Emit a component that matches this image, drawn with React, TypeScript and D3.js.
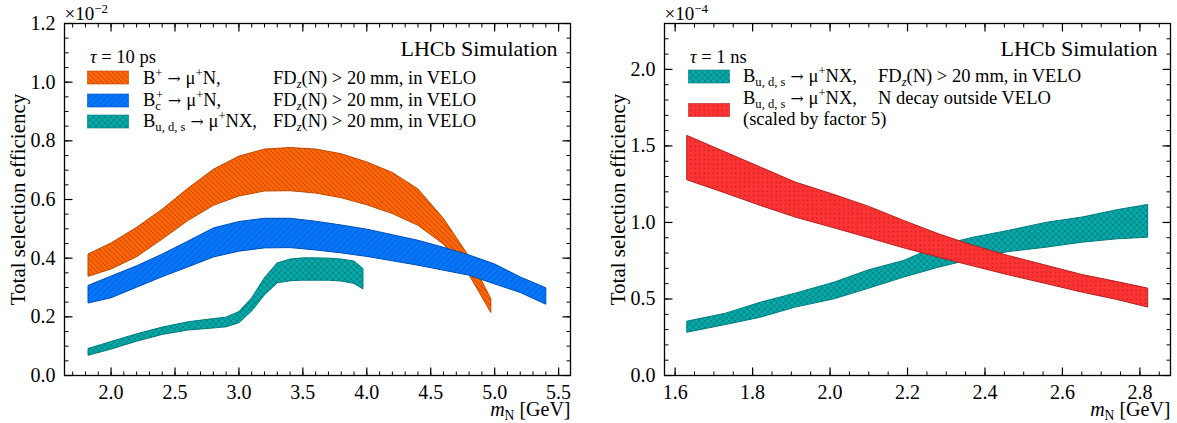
import React from "react";
import * as d3 from "d3";

// left panel: tau = 10 ps, efficiencies in units of 1e-2
const bpMass = [1.82, 2.0, 2.2, 2.4, 2.6, 2.8, 3.0, 3.2, 3.4, 3.6, 3.8, 4.0, 4.2, 4.4, 4.6, 4.8, 4.97];
const bpHi = [0.414, 0.452, 0.505, 0.567, 0.638, 0.703, 0.748, 0.772, 0.777, 0.772, 0.756, 0.728, 0.692, 0.636, 0.535, 0.405, 0.262];
const bpLo = [0.338, 0.363, 0.405, 0.465, 0.528, 0.58, 0.612, 0.629, 0.63, 0.622, 0.606, 0.582, 0.552, 0.512, 0.448, 0.343, 0.215];

const bcMass = [1.82, 2.0, 2.2, 2.4, 2.6, 2.8, 3.0, 3.2, 3.4, 3.6, 3.8, 4.0, 4.2, 4.4, 4.6, 4.8, 5.0, 5.2, 5.4];
const bcHi = [0.307, 0.339, 0.374, 0.414, 0.458, 0.503, 0.525, 0.536, 0.536, 0.526, 0.513, 0.499, 0.48, 0.461, 0.437, 0.411, 0.38, 0.336, 0.299];
const bcLo = [0.247, 0.265, 0.301, 0.337, 0.37, 0.404, 0.424, 0.435, 0.436, 0.428, 0.418, 0.406, 0.391, 0.376, 0.359, 0.342, 0.312, 0.283, 0.243];

const budsMass = [1.82, 2.0, 2.2, 2.4, 2.6, 2.8, 2.9, 3.0, 3.1, 3.2, 3.3, 3.4, 3.5, 3.6, 3.7, 3.8, 3.9, 3.97];
const budsHi = [0.092, 0.116, 0.142, 0.165, 0.183, 0.194, 0.199, 0.218, 0.265, 0.334, 0.384, 0.397, 0.401, 0.401, 0.4, 0.397, 0.39, 0.365];
const budsLo = [0.069, 0.09, 0.117, 0.14, 0.155, 0.162, 0.166, 0.18, 0.22, 0.275, 0.316, 0.323, 0.325, 0.325, 0.325, 0.322, 0.314, 0.295];

// right panel: tau = 1 ns, efficiencies in units of 1e-4
const nsMass = [1.63, 1.73, 1.82, 1.91, 2.01, 2.1, 2.19, 2.28, 2.37, 2.46, 2.56, 2.65, 2.74, 2.82];
const nsBudsHi = [0.355, 0.407, 0.479, 0.538, 0.61, 0.691, 0.752, 0.85, 0.904, 0.948, 1.002, 1.035, 1.083, 1.118];
const nsBudsLo = [0.283, 0.333, 0.381, 0.447, 0.501, 0.571, 0.643, 0.708, 0.763, 0.81, 0.839, 0.871, 0.893, 0.904];
const nsOutHi = [1.569, 1.46, 1.362, 1.264, 1.183, 1.105, 1.013, 0.926, 0.85, 0.784, 0.719, 0.66, 0.614, 0.571];
const nsOutLo = [1.279, 1.192, 1.111, 1.035, 0.965, 0.9, 0.834, 0.773, 0.715, 0.658, 0.599, 0.545, 0.497, 0.447];

const leftXTicks = [2.0, 2.5, 3.0, 3.5, 4.0, 4.5, 5.0, 5.5];
const leftYTicks = [0.0, 0.2, 0.4, 0.6, 0.8, 1.0, 1.2];
const rightXTicks = [1.6, 1.8, 2.0, 2.2, 2.4, 2.6, 2.8];
const rightYTicks = [0.0, 0.5, 1.0, 1.5, 2.0];

const FONT = '"Liberation Serif", serif';
const ARROW_FONT = '"DejaVu Serif", serif';
const TOP = 23.5;
const BOTTOM = 375.5;

const styles = {
  orange: { fill: "#ff6600", edge: "#c04a00", pattern: "hatchBack" },
  blue: { fill: "#0077ff", edge: "#0050b8", pattern: "hatchFwd" },
  teal: { fill: "#00aaaa", edge: "#007c7c", pattern: "hatchCross" },
  red: { fill: "#ff3333", edge: "#b81e1e", pattern: "dots" },
};

const zip = (xs, lo, hi) => xs.map((x, i) => ({ x, lo: lo[i], hi: hi[i] }));

// small rich-text helper: segments with sub/sup/italic
const Rich = ({ x, y, parts, size = 18.5, anchor = "start" }) => {
  let shift = 0;
  return (
    <text x={x} y={y} style={{ fontFamily: FONT }} fontSize={size} textAnchor={anchor} fill="#000">
      {parts.map((p, i) => {
        const target = p.sub ? size * 0.22 : p.sup ? -size * 0.36 : 0;
        const dy = target - shift;
        shift = target;
        return (
          <tspan
            key={i}
            dy={dy}
            dx={p.dx || 0}
            fontSize={p.sub || p.sup ? size * 0.68 : p.scale ? size * p.scale : size}
            fontStyle={p.it ? "italic" : "normal"}
            style={p.font ? { fontFamily: p.font } : undefined}
          >
            {p.t}
          </tspan>
        );
      })}
    </text>
  );
};

const ARROW = { t: " → ", font: ARROW_FONT, scale: 0.85 };

const Panel = ({ x0, x1, xDomain, yDomain, xTicks, xMinor, yTicks, yMinor, exponent, bands, yFmt, xFmt }) => {
  const x = d3.scaleLinear().domain(xDomain).range([x0, x1]);
  const y = d3.scaleLinear().domain(yDomain).range([BOTTOM, TOP]);
  const area = d3
    .area()
    .x((d) => x(d.x))
    .y0((d) => y(d.lo))
    .y1((d) => y(d.hi));

  const xMinorTicks = d3.range(Math.ceil(xDomain[0] / xMinor) * xMinor, xDomain[1], xMinor);
  const yMinorTicks = d3.range(0, yDomain[1] + 1e-9, yMinor);

  return (
    <g>
      {bands.map((b, i) => {
        const s = styles[b.style];
        const path = area(b.data);
        return (
          <g key={i}>
            <path d={path} fill={s.fill} />
            <path d={path} fill={`url(#${s.pattern})`} stroke={s.edge} strokeWidth={1} />
          </g>
        );
      })}

      <rect x={x0} y={TOP} width={x1 - x0} height={BOTTOM - TOP} fill="none" stroke="#000" strokeWidth={1.3} />

      {xMinorTicks.map((t, i) => (
        <g key={"xm" + i}>
          <line x1={x(t)} x2={x(t)} y1={BOTTOM} y2={BOTTOM - 4} stroke="#000" />
          <line x1={x(t)} x2={x(t)} y1={TOP} y2={TOP + 4} stroke="#000" />
        </g>
      ))}
      {xTicks.map((t, i) => (
        <g key={"x" + i}>
          <line x1={x(t)} x2={x(t)} y1={BOTTOM} y2={BOTTOM - 8} stroke="#000" strokeWidth={1.2} />
          <line x1={x(t)} x2={x(t)} y1={TOP} y2={TOP + 8} stroke="#000" strokeWidth={1.2} />
          <text x={x(t)} y={BOTTOM + 23} textAnchor="middle" style={{ fontFamily: FONT }} fontSize={20}>
            {xFmt(t)}
          </text>
        </g>
      ))}
      {yMinorTicks.map((t, i) => (
        <g key={"ym" + i}>
          <line x1={x0} x2={x0 + 4} y1={y(t)} y2={y(t)} stroke="#000" />
          <line x1={x1} x2={x1 - 4} y1={y(t)} y2={y(t)} stroke="#000" />
        </g>
      ))}
      {yTicks.map((t, i) => (
        <g key={"y" + i}>
          <line x1={x0} x2={x0 + 8} y1={y(t)} y2={y(t)} stroke="#000" strokeWidth={1.2} />
          <line x1={x1} x2={x1 - 8} y1={y(t)} y2={y(t)} stroke="#000" strokeWidth={1.2} />
          <text x={x0 - 9} y={y(t) + 6.5} textAnchor="end" style={{ fontFamily: FONT }} fontSize={20}>
            {yFmt(t)}
          </text>
        </g>
      ))}

      <text
        transform={`translate(${x0 - 40}, ${(TOP + BOTTOM) / 2}) rotate(-90)`}
        textAnchor="middle"
        style={{ fontFamily: FONT }}
        fontSize={21}
      >
        Total selection efficiency
      </text>
      <Rich
        x={x1}
        y={BOTTOM + 40.5}
        anchor="end"
        size={20}
        parts={[{ t: "m", it: true }, { t: "N", sub: true }, { t: " [GeV]" }]}
      />
      <Rich x={x0} y={TOP - 4} size={19} parts={[{ t: "×10" }, { t: "−" + exponent, sup: true }]} />
      <text x={x1 - 13} y={56} textAnchor="end" style={{ fontFamily: FONT }} fontSize={22}>
        LHCb Simulation
      </text>
    </g>
  );
};

const Patch = ({ x, y, style }) => {
  const s = styles[style];
  return (
    <g>
      <rect x={x} y={y} width={41} height={13} fill={s.fill} />
      <rect x={x} y={y} width={41} height={13} fill={`url(#${s.pattern})`} stroke={s.edge} strokeOpacity={0.6} />
    </g>
  );
};

const BUDS = [{ t: "B" }, { t: "u, d, s", sub: true }, ARROW, { t: "μ" }, { t: "+", sup: true }, { t: "NX," }];
const FD = [{ t: "FD" }, { t: "z", sub: true, it: true }, { t: "(N) > 20 mm, in VELO" }];

export default function App() {
  const fmt1 = d3.format(".1f");
  return (
    <svg width={1177} height={423} style={{ position: "absolute", left: 0, top: 0, background: "#fff" }}>
      <defs>
        <pattern id="hatchBack" patternUnits="userSpaceOnUse" width={5} height={5}>
          <path d="M-1,-1 L6,6 M-1,4 L1,6 M4,-1 L6,1" stroke="#b04000" strokeWidth={0.8} />
        </pattern>
        <pattern id="hatchFwd" patternUnits="userSpaceOnUse" width={6} height={6}>
          <path d="M-1,7 L7,-1 M-1,1 L1,-1 M5,7 L7,5" stroke="#0050b0" strokeWidth={0.8} />
        </pattern>
        <pattern id="hatchCross" patternUnits="userSpaceOnUse" width={6} height={6}>
          <path
            d="M-1,-1 L7,7 M-1,5 L1,7 M5,-1 L7,1 M-1,7 L7,-1 M-1,1 L1,-1 M5,7 L7,5"
            stroke="#007a7a"
            strokeWidth={0.8}
          />
        </pattern>
        <pattern id="dots" patternUnits="userSpaceOnUse" width={4.5} height={4.5}>
          <rect x={1.5} y={1.5} width={1.4} height={1.4} fill="#b02020" />
        </pattern>
      </defs>

      <Panel
        x0={64.5}
        x1={570.5}
        xDomain={[1.636, 5.593]}
        yDomain={[0, 1.2]}
        xTicks={leftXTicks}
        xMinor={0.1}
        yTicks={leftYTicks}
        yMinor={0.05}
        exponent="2"
        xFmt={fmt1}
        yFmt={fmt1}
        bands={[
          { style: "orange", data: zip(bpMass, bpLo, bpHi) },
          { style: "blue", data: zip(bcMass, bcLo, bcHi) },
          { style: "teal", data: zip(budsMass, budsLo, budsHi) },
        ]}
      />
      <Panel
        x0={664.5}
        x1={1170.5}
        xDomain={[1.5725, 2.879]}
        yDomain={[0, 2.3]}
        xTicks={rightXTicks}
        xMinor={0.05}
        yTicks={rightYTicks}
        yMinor={0.1}
        exponent="4"
        xFmt={fmt1}
        yFmt={fmt1}
        bands={[
          { style: "teal", data: zip(nsMass, nsBudsLo, nsBudsHi) },
          { style: "red", data: zip(nsMass, nsOutLo, nsOutHi) },
        ]}
      />

      {/* left legend */}
      <Rich x={90} y={63} parts={[{ t: "τ", it: true }, { t: " = 10 ps" }]} />
      <Patch x={87.5} y={71} style="orange" />
      <Patch x={87.5} y={94} style="blue" />
      <Patch x={87.5} y={115} style="teal" />
      <Rich x={143} y={84} parts={[{ t: "B" }, { t: "+", sup: true }, ARROW, { t: "μ" }, { t: "+", sup: true }, { t: "N," }]} />
      <Rich
        x={143}
        y={106}
        parts={[{ t: "B" }, { t: "c", sub: true }, { t: "+", sup: true, dx: -5 }, ARROW, { t: "μ" }, { t: "+", sup: true }, { t: "N," }]}
      />
      <Rich x={143} y={127} parts={BUDS} />
      <Rich x={273} y={84} parts={FD} />
      <Rich x={273} y={106} parts={FD} />
      <Rich x={273} y={127} parts={FD} />

      {/* right legend */}
      <Rich x={690} y={63} parts={[{ t: "τ", it: true }, { t: " = 1 ns" }]} />
      <Patch x={688.5} y={70} style="teal" />
      <Patch x={688.5} y={103.5} style="red" />
      <Rich x={743} y={82} parts={BUDS} />
      <Rich x={878} y={82} parts={FD} />
      <Rich x={743} y={104} parts={BUDS} />
      <Rich x={878} y={104} parts={[{ t: "N decay outside VELO" }]} />
      <Rich x={743} y={125} parts={[{ t: "(scaled by factor 5)" }]} />
    </svg>
  );
}
